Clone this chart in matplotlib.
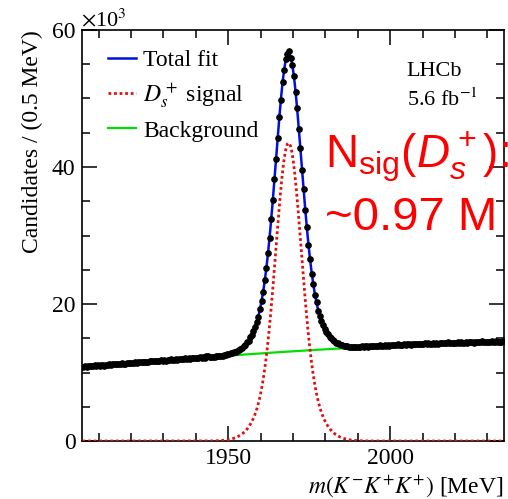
import numpy as np
import matplotlib
matplotlib.use("Agg")
import matplotlib.pyplot as plt
from matplotlib.ticker import MultipleLocator
from matplotlib.lines import Line2D

plt.rcParams['font.family'] = ['Liberation Serif', 'DejaVu Serif']
plt.rcParams['mathtext.fontset'] = 'stix'
# sans math font for the red yield annotation
plt.rcParams['mathtext.rm'] = 'Liberation Sans'
plt.rcParams['mathtext.it'] = 'Liberation Sans:italic'

# binning: 0.5 MeV bins from 1905 to 2035 MeV
m_lo, m_hi, bin_w = 1905.0, 2035.0, 0.5
bin_centers = np.arange(m_lo + bin_w / 2, m_hi, bin_w)

# candidates per bin, in units of 10^3
counts_k = [
    10.80, 10.93, 10.86, 10.95, 10.90, 10.99, 10.92, 11.04, 10.96, 11.05,
    11.00, 11.10, 11.07, 11.01, 11.15, 11.09, 11.19, 11.12, 11.23, 11.17,
    11.28, 11.20, 11.31, 11.26, 11.36, 11.29, 11.25, 11.38, 11.33, 11.42,
    11.37, 11.46, 11.52, 11.43, 11.49, 11.55, 11.47, 11.58, 11.51, 11.60,
    11.56, 11.65, 11.61, 11.70, 11.63, 11.74, 11.68, 11.66, 11.77, 11.72,
    11.81, 11.75, 11.86, 11.80, 11.91, 11.84, 11.89, 11.95, 11.87, 11.97,
    11.93, 12.01, 11.96, 12.05, 12.00, 12.08, 12.03, 12.12, 12.06, 12.10,
    12.16, 12.09, 12.20, 12.14, 12.25, 12.19, 12.38, 12.45, 12.32, 12.27,
    12.33, 12.28, 12.40, 12.35, 12.44, 12.38, 12.47, 12.56, 12.53, 12.66,
    12.65, 12.79, 12.80, 12.95, 13.00, 13.18, 13.26, 13.48, 13.60, 13.88,
    14.05, 14.42, 14.66, 15.12, 15.48, 16.09, 16.60, 17.41, 18.15, 19.26,
    20.45, 21.70, 23.45, 25.20, 27.45, 29.70, 32.45, 35.15, 38.30, 41.15,
    44.20, 47.35, 49.85, 52.40, 54.15, 55.75, 56.55, 56.90, 55.95, 54.85,
    53.30, 50.95, 48.60, 45.60, 42.80, 39.55, 36.75, 33.70, 31.20, 28.60,
    26.55, 24.45, 22.95, 21.35, 20.25, 19.05, 18.30, 17.45, 16.95, 16.35,
    15.90, 15.62, 15.20, 15.05, 14.72, 14.60, 14.35, 14.30, 14.10, 14.07,
    13.97, 13.90, 13.84, 13.81, 13.77, 13.74, 13.72, 13.72, 13.71, 13.70,
    13.78, 13.72, 13.83, 13.76, 13.86, 13.80, 13.75, 13.88, 13.82, 13.90,
    13.85, 13.93, 13.87, 13.96, 13.90, 13.84, 13.97, 13.92, 14.00, 13.94,
    14.02, 13.96, 14.05, 13.99, 14.10, 14.03, 14.08, 13.98, 14.12, 14.06,
    14.20, 14.13, 14.07, 14.16, 14.11, 14.22, 14.15, 14.09, 14.18, 14.13,
    14.16, 14.24, 14.19, 14.28, 14.21, 14.14, 14.26, 14.20, 14.30, 14.23,
    14.27, 14.33, 14.25, 14.36, 14.29, 14.40, 14.32, 14.27, 14.38, 14.31,
    14.35, 14.42, 14.33, 14.46, 14.38, 14.31, 14.44, 14.37, 14.48, 14.40,
    14.43, 14.37, 14.50, 14.41, 14.47, 14.39, 14.53, 14.44, 14.49, 14.42,
    14.51, 14.45, 14.54, 14.47, 14.43, 14.55, 14.48, 14.52, 14.46, 14.58,
]
counts_k = np.array(counts_k)
errors_k = np.sqrt(counts_k * 1e3) / 1e3

# fit model: double Gaussian signal + cubic background
n_sig = 0.97e6
mu = 1968.6
sigmas = [3.7, 6.5]
fracs = [0.61, 0.39]
bkg_coef = [13.1, 1.95, -0.45, -0.15]   # in 10^3, polynomial in (m-1970)/65


def signal(m):
    s = np.zeros_like(m)
    for f, sg in zip(fracs, sigmas):
        s += f * np.exp(-0.5 * ((m - mu) / sg) ** 2) / (sg * np.sqrt(2 * np.pi))
    return n_sig * bin_w * s / 1e3


def background(m):
    t = (m - 1970.0) / 65.0
    return sum(c * t ** i for i, c in enumerate(bkg_coef))


mm = np.linspace(m_lo, m_hi, 1500)
sig_curve = signal(mm)
bkg_curve = background(mm)
tot_curve = sig_curve + bkg_curve

fig = plt.figure(figsize=(5.08, 4.99), dpi=100)
ax = fig.add_axes([0.1624, 0.1162, 0.8291, 0.8237])

ax.plot(mm, bkg_curve, color='#00e000', lw=1.6, zorder=2)
ax.plot(mm, tot_curve, color='#0010e0', lw=1.8, zorder=3)
ax.plot(mm, sig_curve, color='#e01010', lw=2.0, ls=(0, (1, 1)), zorder=4)
ax.errorbar(bin_centers, counts_k, yerr=errors_k, fmt='o', color='black',
            ms=3.8, elinewidth=1, capsize=0, zorder=5)

ax.set_xlim(m_lo, m_hi)
ax.set_ylim(0, 60)
ax.xaxis.set_major_locator(MultipleLocator(50))
ax.xaxis.set_minor_locator(MultipleLocator(10))
ax.yaxis.set_major_locator(MultipleLocator(20))
ax.yaxis.set_minor_locator(MultipleLocator(5))
ax.tick_params(which='both', direction='in', top=True, right=True,
               labelsize=17, width=1.1, pad=5)
ax.tick_params(which='major', length=11)
ax.tick_params(which='minor', length=6)
for sp in ax.spines.values():
    sp.set_linewidth(1.2)

ax.set_ylabel('Candidates / (0.5 MeV)', fontsize=17, loc='top')
ax.yaxis.set_label_coords(-0.094, 1.0)
ax.set_xlabel(r'$m(K^{-}K^{+}K^{+})$ [MeV]', fontsize=17, loc='right')
ax.xaxis.set_label_coords(1.0, -0.078)
fig.text(81 / 508, 1 - 26 / 499, r'$\times$10$^3$', fontsize=16,
         ha='left', va='baseline')

handles = [
    Line2D([], [], color='#0010e0', lw=1.8),
    Line2D([], [], color='#e01010', lw=2.0, ls=(0, (1, 1))),
    Line2D([], [], color='#00e000', lw=1.6),
]
labels = ['Total fit', r'$D_s^+$ signal', 'Background']
ax.legend(handles, labels, loc='upper left', bbox_to_anchor=(0.038, 0.975),
          frameon=False, fontsize=17, handlelength=1.2, handletextpad=0.3,
          labelspacing=0.42, borderaxespad=0)

ax.text(0.77, 0.922, 'LHCb', transform=ax.transAxes, fontsize=16,
        ha='left', va='top')
ax.text(0.77, 0.858, r'5.6 fb$^{-1}$', transform=ax.transAxes, fontsize=16,
        ha='left', va='top')

fig.text(325 / 508, 1 - 167 / 499, r'N$_\mathrm{sig}$($D_s^+$):',
         color='#ff0000', fontsize=33, family='Liberation Sans',
         math_fontfamily='custom', ha='left', va='baseline')
fig.text(325 / 508, 1 - 230 / 499, '~0.97 M', color='#ff0000', fontsize=34,
         family='Liberation Sans', ha='left', va='baseline')

fig.savefig('out.png', dpi=100)
